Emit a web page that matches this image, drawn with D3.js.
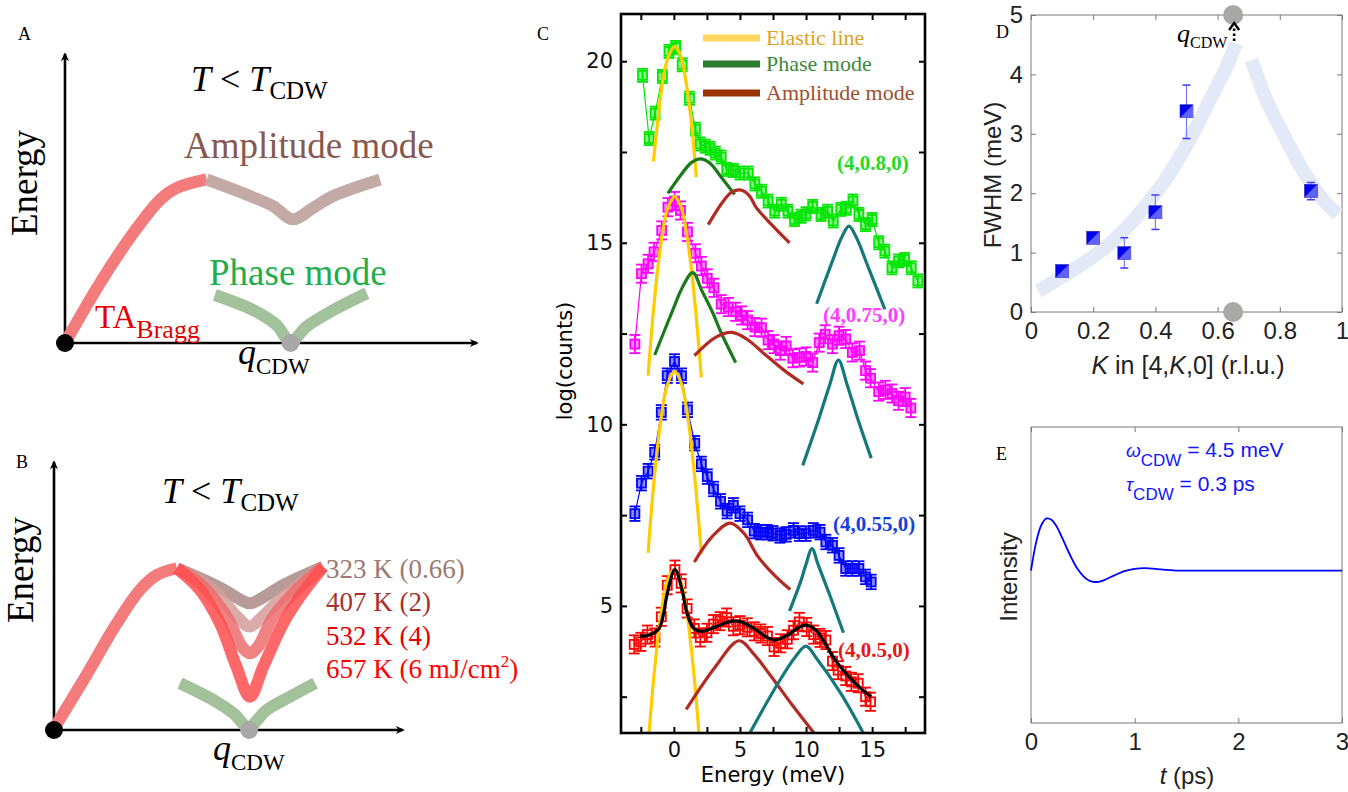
<!DOCTYPE html>
<html lang="en">
<head>
<meta charset="utf-8">
<title>CDW modes</title>
<script src="https://cdn.jsdelivr.net/npm/d3@7"></script>
<style>
  body { margin: 0; background: #fff; }
  svg { display: block; }
</style>
</head>
<body>
<div id="fig"></div>
<script>
// ---------- A / B : schematic dispersions (arbitrary units 0-100) ----------
const taA    = [[0,0],[8.45,20.6],[16.5,37.8],[23,49.3],[27,53.3],[34.2,56.2]];
const ampA   = [[34.2,56.2],[44.7,50.5],[50.3,47.0],[55,42.5],[60,46.5],[64.8,50.5],[76.1,56.2]];
const phaseA = [[36.2,16.5],[45.5,11.3],[51.1,6.2],[54.5,0.4],[58.3,5.6],[64.8,11.3],[72.9,17.1]];
const qcdwA  = 54.5;

const taB    = [[0.3,1.2],[8.4,18.5],[17.9,39.5],[24.5,51.9],[29.3,57.4],[35,59.9]];
const amp323 = [[35,59.9],[42,56],[49,51.5],[53.5,48],[55.8,46.9],[58.5,48.3],[65.3,53.7],[76.7,60.5]];
const amp407 = [[35,59.9],[45.4,51.9],[52.5,41.5],[55.8,38.3],[59,41.5],[65.3,49.4],[76.7,60.5]];
const amp532 = [[35,59.9],[41.6,54.3],[49.2,42],[53.5,31],[55.8,28.4],[58.2,31],[62.5,42],[70.1,53.1],[76.7,60.5]];
const amp657 = [[35,59.9],[41.6,51.9],[47.3,39.5],[52,23.4],[55.8,12.3],[59.6,23.4],[65.3,39.5],[70.1,49.4],[76.7,60.5]];
const phaseB = [[35.9,17.3],[45.4,11.1],[51.1,6.2],[55.4,1.2],[60.6,7.4],[67.2,12.3],[74.4,17.3]];
const qcdwB  = 55.6;
const tempLabels = ["323 K (0.66)", "407 K (2)", "532 K (4)", "657 K (6 mJ/cm"];
const tempColors = ["#9c7a73", "#a8302b", "#e60000", "#ff0000"];

// ---------- C : IXS spectra, log(counts) vs energy ----------
const greenE = [-2.37,-1.87,-1.42,-0.87,-0.37,0.13,0.63,1.18,1.63,2.0,2.38,2.75,3.13,3.58,4.0,4.5,5.0,5.63,6.13,6.63,7.13,7.63,8.13,8.63,9.13,9.63,10.0,10.5,11.13,11.63,12.06,12.63,13.05,13.55,14.0,14.5,15.0,15.5,15.96,16.5,17.0,17.46,17.96,18.46];
const greenV = [19.61,17.87,18.57,19.58,20.27,20.38,19.9,18.98,18.13,17.72,17.66,17.6,17.47,17.36,17.02,16.99,16.92,16.92,16.62,16.42,16.15,15.87,16.06,15.87,15.64,15.73,15.8,16.0,15.78,15.87,15.6,15.92,15.95,16.15,15.78,15.5,15.64,15.0,14.77,14.31,14.5,14.54,14.31,13.95];
const magentaE = [-2.95,-2.45,-1.95,-1.5,-0.92,-0.45,0.05,0.5,1.03,1.63,2.08,2.53,3.03,3.58,4.13,4.68,5.13,5.58,6.13,6.63,7.13,7.58,8.06,8.5,9.0,9.5,10.0,10.5,11.0,11.45,12.0,12.5,13.0,13.5,14.05,14.5,14.88,15.5,16.0,16.5,17.0,17.5,17.93];
const magentaV = [12.21,14.15,14.42,14.75,15.34,15.98,16.15,15.89,15.3,14.71,14.36,14.02,13.76,13.31,13.23,13.1,13.0,12.87,12.68,12.66,12.32,12.21,12.03,12.16,11.82,11.84,11.87,11.7,12.25,12.48,12.21,12.44,12.35,11.98,12.03,11.48,11.27,10.9,10.95,10.85,10.65,10.75,10.45];
const blueE = [-2.95,-2.45,-1.95,-1.45,-0.95,-0.5,0.05,0.58,1.03,1.58,2.08,2.53,3.0,3.53,4.03,4.5,5.0,5.58,6.08,6.56,7.05,7.5,8.03,8.5,9.05,9.5,10.0,10.55,11.06,11.5,12.0,12.5,13.0,13.5,14.0,14.5,14.93];
const blueV = [7.54,8.38,8.71,9.23,10.33,11.34,11.73,11.34,10.4,9.48,8.91,8.56,8.22,7.88,7.61,7.77,7.54,7.37,7.06,7.03,7.03,7.0,6.94,6.97,7.08,6.99,6.99,7.08,7.03,6.76,6.67,6.39,6.03,6.03,6.03,5.8,5.66];
const redE = [-3.0,-2.5,-2.0,-1.43,-0.95,-0.5,0.08,0.55,1.0,1.55,2.0,2.5,3.0,3.5,4.0,4.5,5.0,5.55,6.08,6.58,7.08,7.58,8.08,8.58,9.05,9.5,10.05,10.58,11.06,11.5,12.0,12.43,13.0,13.43,13.95,14.5,14.88];
const redV = [3.94,4.01,4.21,4.13,4.7,5.57,6.0,5.62,4.93,4.38,4.13,4.26,4.5,4.58,4.68,4.44,4.47,4.41,4.3,4.24,4.17,3.87,3.97,4.08,4.33,4.56,4.42,4.21,4.12,4.06,3.48,3.23,3.07,2.91,2.87,2.5,2.36];
const seriesErr = [0.18, 0.25, 0.2, 0.25];
const seriesNames = ["(4,0.8,0)", "(4,0.75,0)", "(4,0.55,0)", "(4,0.5,0)"];

// fitted components
const elasticG = [[-1.55,17.24],[-1.2,18.4],[-0.8,19.56],[-0.4,20.14],[0.05,20.4],[0.45,20.2],[0.85,19.58],[1.25,18.55],[1.7,16.8]];
const elasticM = [[-1.95,11.34],[-1.5,13.31],[-1.0,14.92],[-0.5,15.91],[0.05,16.28],[0.55,15.97],[1.05,15.05],[1.55,13.5],[2.08,11.29]];
const elasticB = [[-1.95,6.46],[-1.5,8.46],[-1.0,10.08],[-0.5,11.08],[0.05,11.46],[0.55,11.15],[1.05,10.21],[1.55,8.65],[2.08,6.44]];
const elasticR = [[-2.0,0.95],[-1.5,3.1],[-1.0,4.7],[-0.5,5.69],[0.0,6.0],[0.5,5.69],[1.0,4.75],[1.5,3.19],[2.0,1.0]];
const phaseG = [[-0.45,16.36],[0.5,16.85],[1.3,17.2],[2.0,17.31],[2.7,17.2],[3.6,16.8],[4.6,16.33]];
const phaseM = [[-1.45,11.91],[0,13.22],[0.63,13.76],[1.43,14.18],[2.13,13.67],[2.88,13.12],[3.63,12.48],[4.68,11.7]];
const ampG = [[2.6,15.5],[3.75,16.15],[4.4,16.4],[5.1,16.45],[5.7,16.3],[6.25,15.96],[7.5,15.46],[8.75,15.0]];
const ampM = [[1.55,11.89],[3.13,12.39],[4.38,12.53],[5.5,12.35],[6.88,11.93],[8.3,11.5],[9.8,11.11]];
const ampB = [[1.55,6.21],[2.88,6.9],[4.25,7.28],[5.3,7.0],[6.38,6.35],[7.6,5.85],[8.8,5.45]];
const ampR = [[0.93,2.15],[3.13,3.32],[4.93,4.04],[6.1,3.65],[7.38,3.05],[9.0,2.25],[10.6,1.5]];
const tealG = [[10.8,13.32],[12.0,14.5],[12.7,15.15],[13.25,15.46],[13.8,15.15],[14.63,14.4],[15.96,13.17]];
const tealM = [[9.75,8.87],[11.0,10.19],[11.8,11.1],[12.45,11.77],[13.1,11.1],[13.88,10.19],[14.93,9.07]];
const tealB = [[8.75,4.86],[9.63,5.71],[10.0,6.15],[10.45,6.58],[10.9,6.15],[11.75,5.34],[12.83,4.26]];
const tealR = [[5.75,1.5],[7.88,2.87],[9.2,3.6],[10.0,3.89],[10.8,3.55],[12.63,2.59],[14.33,1.5]];
const fitR = [[-2.57,4.17],[-1.87,4.2],[-1.12,4.38],[-0.8,4.75],[-0.5,5.34],[0.08,6.0],[0.63,5.43],[1.0,4.79],[1.5,4.38],[2.13,4.3],[3.13,4.42],[4.13,4.56],[4.88,4.58],[5.88,4.42],[6.88,4.17],[7.63,4.06],[8.63,4.2],[9.5,4.42],[10.0,4.47],[10.75,4.33],[11.38,4.01],[12.13,3.55],[13.13,3.1],[14.13,2.73],[14.93,2.5]];
const legendLabels = ["Elastic line", "Phase mode", "Amplitude mode"];

// ---------- D : FWHM vs K ----------
const kVals  = [0.1, 0.2, 0.3, 0.4, 0.5, 0.9];
const fwhm   = [0.69, 1.25, 0.99, 1.68, 3.38, 2.04];
const fwhmLo = [null, null, 0.74, 1.39, 2.92, 1.89];
const fwhmHi = [null, null, 1.25, 1.97, 3.82, 2.18];
const guideLeft  = [[0.023,0.35],[0.136,0.71],[0.243,1.10],[0.34,1.61],[0.425,2.17],[0.51,2.9],[0.575,3.57],[0.629,4.13],[0.659,4.52]];
const guideRight = [[0.709,4.24],[0.757,3.57],[0.821,2.9],[0.886,2.28],[0.939,1.89],[0.987,1.64]];
const qcdwK = 0.65;

// ---------- E : damped oscillation ----------
const tE = [0,0.05,0.1,0.15,0.2,0.25,0.3,0.35,0.4,0.45,0.5,0.55,0.6,0.65,0.7,0.8,0.9,1.0,1.1,1.2,1.3,1.4,1.6,2.0,2.5,3.0];
const iE = [0.515,0.611,0.669,0.691,0.686,0.662,0.626,0.587,0.551,0.520,0.498,0.483,0.477,0.477,0.482,0.498,0.513,0.521,0.523,0.521,0.517,0.515,0.515,0.515,0.515,0.515];

const SERIF = "'Liberation Serif', 'Times New Roman', serif";
const SANS = "'Liberation Sans', Arial, sans-serif";
const GEO = "'DejaVu Sans', 'Liberation Sans', sans-serif";

const svg = d3.select("#fig").append("svg")
    .attr("width", 1348)
    .attr("height", 792)
    .style("font-family", SERIF);

const defs = svg.append("defs");
defs.append("marker")
    .attr("id", "arrow")
    .attr("viewBox", "0 0 10 10")
    .attr("refX", 8).attr("refY", 5)
    .attr("markerUnits", "userSpaceOnUse")
    .attr("markerWidth", 11).attr("markerHeight", 9)
    .attr("orient", "auto")
  .append("path")
    .attr("d", "M0,0.5 L10,5 L0,9.5 L3,5 Z")
    .attr("fill", "#000");
defs.append("clipPath").attr("id", "clipC")
  .append("rect").attr("x", 621).attr("y", 14).attr("width", 304).attr("height", 719);

function curveLine(xs, ys) {
    return d3.line().x(d => xs(d[0])).y(d => ys(d[1])).curve(d3.curveCatmullRom.alpha(0.5));
}

// text with sub/superscript pieces: [text, size, italic, dy]
function richText(g, x, y, parts, color, anchor) {
    let t = g.append("text").attr("x", x).attr("y", y).attr("fill", color || "#000")
        .attr("text-anchor", anchor || "start");
    parts.forEach(p => {
        t.append("tspan")
            .text(p[0])
            .attr("font-size", p[1])
            .attr("font-style", p[2] ? "italic" : "normal")
            .attr("dy", p[3] || 0);
    });
    return t;
}

function panelLetter(x, y, s) {
    svg.append("text").attr("x", x).attr("y", y).attr("font-size", 18).text(s);
}

// ================= panel A / B =================
function schematic(xs, ys, opts) {
    const g = svg.append("g");
    // axes with arrows
    g.append("line").attr("x1", xs(0)).attr("y1", ys(0)).attr("x2", xs(0)).attr("y2", ys(100) + 2)
        .attr("stroke", "#000").attr("stroke-width", 2.6).attr("marker-end", "url(#arrow)");
    g.append("line").attr("x1", xs(0)).attr("y1", ys(0)).attr("x2", xs(100) - 2).attr("y2", ys(0))
        .attr("stroke", "#000").attr("stroke-width", 2.6).attr("marker-end", "url(#arrow)");
    opts.curves.forEach(c => {
        g.append("path").datum(c.data)
            .attr("d", curveLine(xs, ys))
            .attr("fill", "none")
            .attr("stroke", c.color)
            .attr("stroke-opacity", c.opacity || 1)
            .attr("stroke-width", 12);
    });
    g.append("circle").attr("cx", xs(0)).attr("cy", ys(0)).attr("r", 9).attr("fill", "#000");
    g.append("circle").attr("cx", xs(opts.q)).attr("cy", ys(0)).attr("r", 9).attr("fill", "#a9a7a8");
    return g;
}

const xA = d3.scaleLinear([0, 100], [65, 479]);
const yA = d3.scaleLinear([0, 100], [343, 52]);
const gA = schematic(xA, yA, {
    q: qcdwA,
    curves: [
        {data: taA, color: "#f47b7b"},
        {data: ampA, color: "#c4aaa6"},
        {data: phaseA, color: "#a3c29b"}
    ]
});
panelLetter(18, 40, "A");
richText(gA, 191, 91, [["T", 36, true], [" < ", 36], ["T", 36, true], ["CDW", 25, false, 8]]);
gA.append("text").attr("transform", "translate(37,183) rotate(-90)")
    .attr("text-anchor", "middle").attr("font-size", 37).text("Energy");
gA.append("text").attr("x", 184).attr("y", 158).attr("font-size", 37).attr("fill", "#87584f").text("Amplitude mode");
gA.append("text").attr("x", 209).attr("y", 285).attr("font-size", 37).attr("fill", "#1eae4b").text("Phase mode");
richText(gA, 95, 328, [["TA", 33], ["Bragg", 26, false, 10]], "#e60000");
richText(gA, 238, 364, [["q", 36, true], ["CDW", 23, false, 10]]);

const xB = d3.scaleLinear([0, 100], [54, 405]);
const yB = d3.scaleLinear([0, 100], [730, 460]);
const gB = schematic(xB, yB, {
    q: qcdwB,
    curves: [
        {data: taB, color: "#f47b7b"},
        {data: amp323, color: "#a98a86", opacity: 0.85},
        {data: amp407, color: "#d39c99", opacity: 0.85},
        {data: amp532, color: "#ec6d6d", opacity: 0.85},
        {data: amp657, color: "#ff4d4d", opacity: 0.85},
        {data: phaseB, color: "#a3c29b"}
    ]
});
panelLetter(16, 468, "B");
richText(gB, 162, 503, [["T", 36, true], [" < ", 36], ["T", 36, true], ["CDW", 25, false, 8]]);
gB.append("text").attr("transform", "translate(33,570) rotate(-90)")
    .attr("text-anchor", "middle").attr("font-size", 37).text("Energy");
richText(gB, 213, 760, [["q", 36, true], ["CDW", 23, false, 10]]);
tempLabels.forEach((s, i) => {
    const t = gB.append("text").attr("x", 326).attr("y", 578 + i * 33.4)
        .attr("font-size", 27).attr("fill", tempColors[i]).text(s);
    if (i === 3) {
        t.append("tspan").text("2").attr("font-size", 17).attr("dy", -11);
        t.append("tspan").text(")").attr("dy", 11);
    }
});

// ================= panel C =================
const xC = d3.scaleLinear([-4, 19], [621, 925]);
const yC = d3.scaleLinear([1.5, 21.3], [733, 14]);
const gC = svg.append("g");
panelLetter(537, 40, "C");

const seriesList = [
    {E: greenE, V: greenV, color: "#00e600", label: "#1fdc1f", lx: 837, ly: 170},
    {E: magentaE, V: magentaV, color: "#ff00ff", label: "#ff3cff", lx: 823, ly: 322},
    {E: blueE, V: blueV, color: "#0000ff", label: "#1740e0", lx: 833, ly: 531},
    {E: redE, V: redV, color: "#ff0000", label: "#e81515", lx: 838, ly: 657}
];

seriesList.forEach((s, k) => {
    const pts = s.E.map((e, i) => [e, s.V[i]]);
    const gs = gC.append("g");
    gs.append("path").datum(pts)
        .attr("d", d3.line().x(d => xC(d[0])).y(d => yC(d[1])))
        .attr("fill", "none").attr("stroke", s.color).attr("stroke-width", 1.2);
    const eh = yC(0) - yC(seriesErr[k]);
    const m = gs.selectAll("g").data(pts).join("g")
        .attr("transform", d => `translate(${xC(d[0])},${yC(d[1])})`)
        .attr("stroke", s.color).attr("stroke-width", 1.8);
    m.append("line").attr("y1", -eh).attr("y2", eh);
    m.append("line").attr("x1", -5.5).attr("x2", 5.5).attr("y1", -eh).attr("y2", -eh);
    m.append("line").attr("x1", -5.5).attr("x2", 5.5).attr("y1", eh).attr("y2", eh);
    m.append("rect").attr("x", -4.5).attr("y", -4.5).attr("width", 9).attr("height", 9)
        .attr("fill", s.color).attr("fill-opacity", k === 3 ? 0.05 : 0.45);
    gC.append("text").attr("x", s.lx).attr("y", s.ly)
        .attr("font-size", 21).attr("font-weight", "bold").attr("fill", s.label)
        .text(seriesNames[k]);
});

const comps = gC.append("g").attr("clip-path", "url(#clipC)");
const compCurves = [
    {d: elasticG, c: "#ffcc00"}, {d: elasticM, c: "#ffcc00"}, {d: elasticB, c: "#ffcc00"}, {d: elasticR, c: "#ffcc00"},
    {d: phaseG, c: "#1b7a1b"}, {d: phaseM, c: "#1b7a1b"},
    {d: ampG, c: "#b22a22"}, {d: ampM, c: "#b22a22"}, {d: ampB, c: "#b22a22"}, {d: ampR, c: "#b22a22"},
    {d: tealG, c: "#15797c"}, {d: tealM, c: "#15797c"}, {d: tealB, c: "#15797c"}, {d: tealR, c: "#15797c"},
    {d: fitR, c: "#000000"}
];
compCurves.forEach(cc => {
    comps.append("path").datum(cc.d)
        .attr("d", curveLine(xC, yC))
        .attr("fill", "none").attr("stroke", cc.c).attr("stroke-width", 3.2);
});

// legend
const legCols = ["#ffd75e", "#2e7d2e", "#993300"];
const legText = ["#dba21f", "#3b8b3b", "#a0502a"];
[38, 64, 93].forEach((y, i) => {
    gC.append("line").attr("x1", 703).attr("x2", 760).attr("y1", y).attr("y2", y)
        .attr("stroke", legCols[i]).attr("stroke-width", 7);
    gC.append("text").attr("x", 766).attr("y", y + 7).attr("font-size", 22)
        .attr("fill", legText[i]).text(legendLabels[i]);
});

// axes box and ticks
gC.append("rect").attr("x", 621).attr("y", 14).attr("width", 304).attr("height", 719)
    .attr("fill", "none").attr("stroke", "#000").attr("stroke-width", 2.6);
const xTicksC = [-2.5, 0, 2.5, 5, 7.5, 10, 12.5, 15, 17.5];
const yTicksC = [2.5, 5, 7.5, 10, 12.5, 15, 17.5, 20];
function styleAxis(g, font, size) {
    g.select(".domain").remove();
    g.selectAll(".tick line").attr("stroke-width", 2);
    g.attr("font-family", font).attr("font-size", size);
    g.selectAll("text").attr("fill", "#111");
}
gC.append("g").attr("transform", "translate(0,733)")
    .call(d3.axisBottom(xC).tickValues(xTicksC).tickSize(-6).tickPadding(9)
        .tickFormat(d => d % 5 === 0 ? d : ""))
    .call(g => styleAxis(g, GEO, 21));
gC.append("g").attr("transform", "translate(0,14)")
    .call(d3.axisTop(xC).tickValues(xTicksC).tickSize(-6).tickFormat(""))
    .call(g => styleAxis(g, GEO, 21));
gC.append("g").attr("transform", "translate(621,0)")
    .call(d3.axisLeft(yC).tickValues(yTicksC).tickSize(-6).tickPadding(8)
        .tickFormat(d => d % 5 === 0 ? d : ""))
    .call(g => styleAxis(g, GEO, 21));
gC.append("g").attr("transform", "translate(925,0)")
    .call(d3.axisRight(yC).tickValues(yTicksC).tickSize(-6).tickFormat(""))
    .call(g => styleAxis(g, GEO, 21));
gC.append("text").attr("x", 773).attr("y", 782).attr("text-anchor", "middle")
    .attr("font-family", GEO).attr("font-size", 21).text("Energy (meV)");
gC.append("text").attr("transform", "translate(572,361) rotate(-90)").attr("text-anchor", "middle")
    .attr("font-family", GEO).attr("font-size", 21).text("log(counts)");

// ================= panel D =================
const xD = d3.scaleLinear([0, 1], [1031, 1342]);
const yD = d3.scaleLinear([0, 5], [312, 15]);
const gD = svg.append("g");
panelLetter(996, 38, "D");

function boxAxes(g, xs, ys, xt, yt, fmtY) {
    const [x0, x1] = xs.range(), [y0, y1] = ys.range();
    g.append("rect").attr("x", x0).attr("y", y1).attr("width", x1 - x0).attr("height", y0 - y1)
        .attr("fill", "none").attr("stroke", "#7a7a7a").attr("stroke-width", 1);
    const sty = sel => {
        sel.select(".domain").remove();
        sel.selectAll(".tick line").attr("stroke", "#7a7a7a");
        sel.attr("font-family", SANS).attr("font-size", 24);
        sel.selectAll("text").attr("fill", "#222");
    };
    g.append("g").attr("transform", `translate(0,${y0})`)
        .call(d3.axisBottom(xs).tickValues(xt).tickSize(-5).tickPadding(10).tickFormat(d3.format("~g"))).call(sty);
    g.append("g").attr("transform", `translate(0,${y1})`)
        .call(d3.axisTop(xs).tickValues(xt).tickSize(-5).tickFormat("")).call(sty);
    if (yt) {
        g.append("g").attr("transform", `translate(${x0},0)`)
            .call(d3.axisLeft(ys).tickValues(yt).tickSize(-5).tickPadding(8).tickFormat(fmtY)).call(sty);
        g.append("g").attr("transform", `translate(${x1},0)`)
            .call(d3.axisRight(ys).tickValues(yt).tickSize(-5).tickFormat("")).call(sty);
    }
}
boxAxes(gD, xD, yD, [0, 0.2, 0.4, 0.6, 0.8, 1], [0, 1, 2, 3, 4, 5], d3.format("d"));

[guideLeft, guideRight].forEach(gl => {
    gD.append("path").datum(gl).attr("d", curveLine(xD, yD))
        .attr("fill", "none").attr("stroke", "#e3e9f7").attr("stroke-width", 14);
});
// error bars
kVals.forEach((k, i) => {
    if (fwhmLo[i] === null) return;
    const x = xD(k);
    gD.append("line").attr("x1", x).attr("x2", x).attr("y1", yD(fwhmLo[i])).attr("y2", yD(fwhmHi[i]))
        .attr("stroke", "#7a7aff").attr("stroke-width", 1.2);
    [fwhmLo[i], fwhmHi[i]].forEach(v => {
        gD.append("line").attr("x1", x - 4).attr("x2", x + 4).attr("y1", yD(v)).attr("y2", yD(v))
            .attr("stroke", "#3b3bff").attr("stroke-width", 1.5);
    });
});
const sq = gD.selectAll("g.sq").data(kVals.map((k, i) => [k, fwhm[i]])).join("g")
    .attr("class", "sq")
    .attr("transform", d => `translate(${xD(d[0])},${yD(d[1])})`);
sq.append("rect").attr("x", -6.5).attr("y", -6.5).attr("width", 13).attr("height", 13)
    .attr("fill", "#0000f0").attr("stroke", "#3030a0").attr("stroke-width", 0.6);
sq.append("path").attr("d", "M6.5,-6.5 L6.5,6.5 L-6.5,6.5 Z")
    .attr("fill", "#7272ff").attr("fill-opacity", 0.85);

gD.append("circle").attr("cx", xD(qcdwK)).attr("cy", yD(5)).attr("r", 10).attr("fill", "#aaa7a7");
gD.append("circle").attr("cx", xD(qcdwK)).attr("cy", yD(0)).attr("r", 10).attr("fill", "#aaa7a7");
gD.append("line").attr("x1", xD(qcdwK) + 1).attr("x2", xD(qcdwK) + 1).attr("y1", 41).attr("y2", 26)
    .attr("stroke", "#000").attr("stroke-width", 2.6).attr("stroke-dasharray", "2.5,2.5");
gD.append("path").attr("d", `M${xD(qcdwK) - 4},30 L${xD(qcdwK) + 1},23 L${xD(qcdwK) + 6},30`)
    .attr("fill", "none").attr("stroke", "#000").attr("stroke-width", 2.4);
richText(gD, 1177, 42, [["q", 26, true], ["CDW", 16, false, 6]]);
richText(gD, 1188, 374, [["K", 25, true], [" in [4,", 25], ["K", 25, true], [",0] (r.l.u.)", 25]], "#222", "middle")
    .attr("font-family", SANS);
gD.append("text").attr("transform", "translate(1001,175) rotate(-90)").attr("text-anchor", "middle")
    .attr("font-family", SANS).attr("font-size", 24).attr("fill", "#222").text("FWHM (meV)");

// ================= panel E =================
const xE = d3.scaleLinear([0, 3], [1031, 1342]);
const yE = d3.scaleLinear([0, 1], [723, 427]);
const gE = svg.append("g");
panelLetter(996, 460, "E");
boxAxes(gE, xE, yE, [0, 1, 2, 3], null);
gE.append("path").datum(tE.map((t, i) => [t, iE[i]]))
    .attr("d", curveLine(xE, yE))
    .attr("fill", "none").attr("stroke", "#0000ff").attr("stroke-width", 1.8);
richText(gE, 1126, 457, [["ω", 19, true], ["CDW", 17, false, 9], [" = 4.5 meV", 21, false, -9]], "#1414ff")
    .attr("font-family", SANS);
richText(gE, 1126, 491, [["τ", 19, true], ["CDW", 17, false, 9], [" = 0.3 ps", 21, false, -9]], "#1414ff")
    .attr("font-family", SANS);
gE.append("text").attr("transform", "translate(1017,577) rotate(-90)").attr("text-anchor", "middle")
    .attr("font-family", SANS).attr("font-size", 24).attr("fill", "#222").text("Intensity");
richText(gE, 1187, 784, [["t", 24, true], [" (ps)", 24]], "#222", "middle").attr("font-family", SANS);
</script>
</body>
</html>
